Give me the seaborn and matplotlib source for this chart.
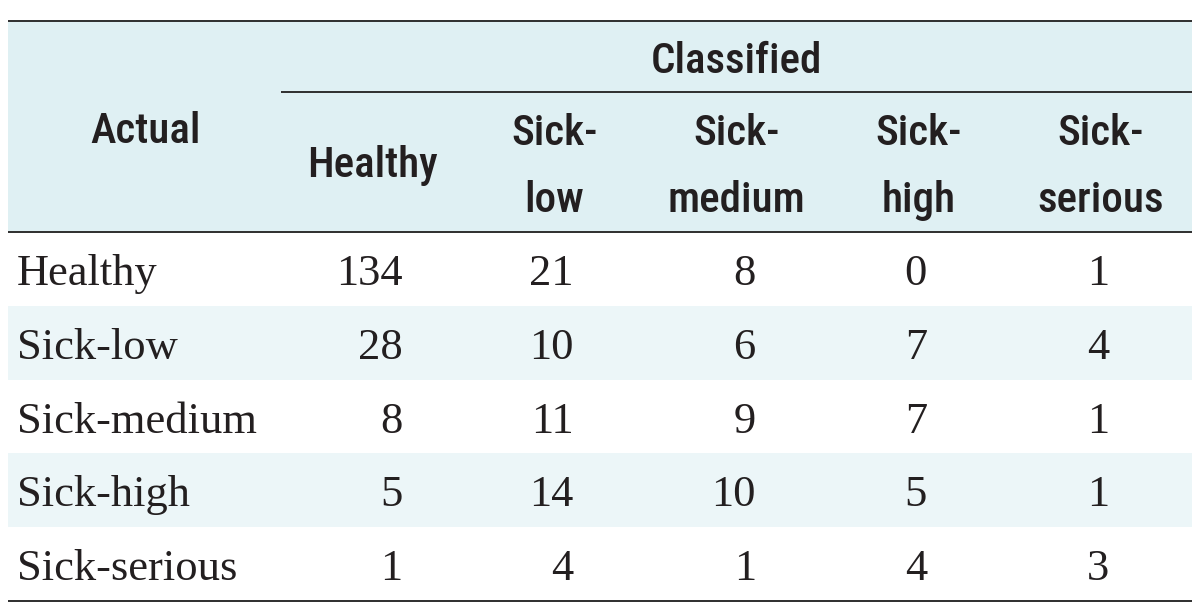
import numpy as np
import pandas as pd
import matplotlib
matplotlib.use("Agg")
import matplotlib.pyplot as plt
from matplotlib.colors import ListedColormap
from matplotlib.patches import Rectangle
from matplotlib import font_manager
import seaborn as sns

# ---------------- data ----------------
actual_labels = ["Healthy", "Sick-low", "Sick-medium", "Sick-high", "Sick-serious"]
classified_labels = ["Healthy", "Sick-low", "Sick-medium", "Sick-high", "Sick-serious"]
healthy_col = [134, 28, 8, 5, 1]
sick_low_col = [21, 10, 11, 14, 4]
sick_medium_col = [8, 6, 9, 10, 1]
sick_high_col = [0, 7, 7, 5, 4]
sick_serious_col = [1, 4, 1, 1, 3]
header_actual = "Actual"
header_classified = "Classified"

values = pd.DataFrame(
    {"Healthy": healthy_col, "Sick-low": sick_low_col, "Sick-medium": sick_medium_col,
     "Sick-high": sick_high_col, "Sick-serious": sick_serious_col},
    index=actual_labels)
stripe = pd.DataFrame([[i % 2] * len(classified_labels) for i in range(len(actual_labels))],
                      index=actual_labels, columns=classified_labels)

# ---------------- style ----------------
sns.set_theme(style="white")
ttf = font_manager.fontManager.ttflist
names = {f.name for f in ttf}
head_kw = None
if "Liberation Sans Narrow" in names:
    head_kw = dict(family=["Liberation Sans Narrow", "DejaVu Sans"], fontweight="bold", fontsize=30)
elif "Roboto Condensed" in names:
    head_kw = dict(family=["Roboto Condensed", "DejaVu Sans"], fontweight="medium", fontsize=31)
elif any(f.name == "DejaVu Sans" and f.stretch in ("condensed", "semi-condensed") for f in ttf):
    head_kw = dict(family=["DejaVu Sans"], fontstretch="condensed", fontweight="bold", fontsize=27)
else:
    head_kw = dict(family=["Roboto", "DejaVu Sans"], fontweight="medium", fontsize=29)
body_font = "Liberation Serif" if "Liberation Serif" in names else "DejaVu Serif"
plt.rcParams["font.family"] = [body_font, "DejaVu Sans"]

TXT = "#231f20"
HEAD_BG = "#dff0f3"
STRIPE = "#ecf6f8"
LINE = "#333333"

W, H = 1200, 611
fig = plt.figure(figsize=(W / 100, H / 100), dpi=100)
fig.patch.set_facecolor("white")

# layout (pixels)
left, right = 8, 1192
col0_right = 281
top, sub_line, head_bottom, bottom = 21, 92, 232, 601
row_h = (bottom - head_bottom) / len(actual_labels)
col_w = (right - col0_right) / len(classified_labels)

ax0 = fig.add_axes([0, 0, 1, 1])
ax0.set_xlim(0, W)
ax0.set_ylim(H, 0)
ax0.axis("off")
ax0.set_zorder(3)

hm = fig.add_axes([col0_right / W, (H - bottom) / H, (right - col0_right) / W, (bottom - head_bottom) / H])
hm.set_zorder(1)
bg = fig.add_axes([0, 0, 1, 1])
bg.set_xlim(0, W)
bg.set_ylim(H, 0)
bg.axis("off")
bg.set_zorder(0)

# header background and stripes for label column
bg.add_patch(Rectangle((left, top), right - left, head_bottom - top, color=HEAD_BG, lw=0))
for i in range(len(actual_labels)):
    if i % 2 == 1:
        bg.add_patch(Rectangle((left, head_bottom + i * row_h), col0_right - left, row_h,
                               color=STRIPE, lw=0))

# body cells via seaborn heatmap
sns.heatmap(stripe, ax=hm, cmap=ListedColormap(["white", STRIPE]), vmin=0, vmax=1,
            cbar=False, annot=values, fmt="d", linewidths=0,
            xticklabels=False, yticklabels=False,
            annot_kws=dict(fontsize=32, family=body_font, color=TXT))
hm.set_xlabel("")
hm.set_ylabel("")

# right-align numbers so widest entry is centred in its column
fig.canvas.draw()
renderer = fig.canvas.get_renderer()
widths = {}
for t in hm.texts:
    x, y = t.get_position()
    j = int(np.floor(x))
    widths[j] = max(widths.get(j, 0), t.get_window_extent(renderer).width)
base_off = 53 / row_h
for t in hm.texts:
    x, y = t.get_position()
    j = int(np.floor(x))
    i = int(np.floor(y))
    t.set_ha("right")
    t.set_va("baseline")
    t.set_position((j + 0.5 + (widths[j] / 2 - 3) / col_w, i + base_off))
    t.set_color(TXT)

# row labels
for i, lab in enumerate(actual_labels):
    ax0.text(17, head_bottom + i * row_h + 53, lab, ha="left", va="baseline",
             fontsize=32, family=body_font, color=TXT)

# header text
hk = dict(color=TXT, ha="center", va="baseline", **head_kw)
ax0.text((left + col0_right) / 2 + 1, 143, header_actual, **hk)
ax0.text((col0_right + right) / 2, 73, header_classified, **hk)
for j, lab in enumerate(classified_labels):
    cx = col0_right + (j + 0.5) * col_w
    if "-" in lab:
        a, b = lab.split("-", 1)
        ax0.text(cx, 145, a + "-", **hk)
        ax0.text(cx, 212, b, **hk)
    else:
        ax0.text(cx, 177, lab, **hk)

# rules
lw = 2.0 * 72 / 100
ax0.hlines([top, head_bottom, bottom], left, right, color=LINE, lw=lw)
ax0.hlines([sub_line], col0_right, right, color=LINE, lw=lw)

fig.savefig("out.png", dpi=100, facecolor="white")
